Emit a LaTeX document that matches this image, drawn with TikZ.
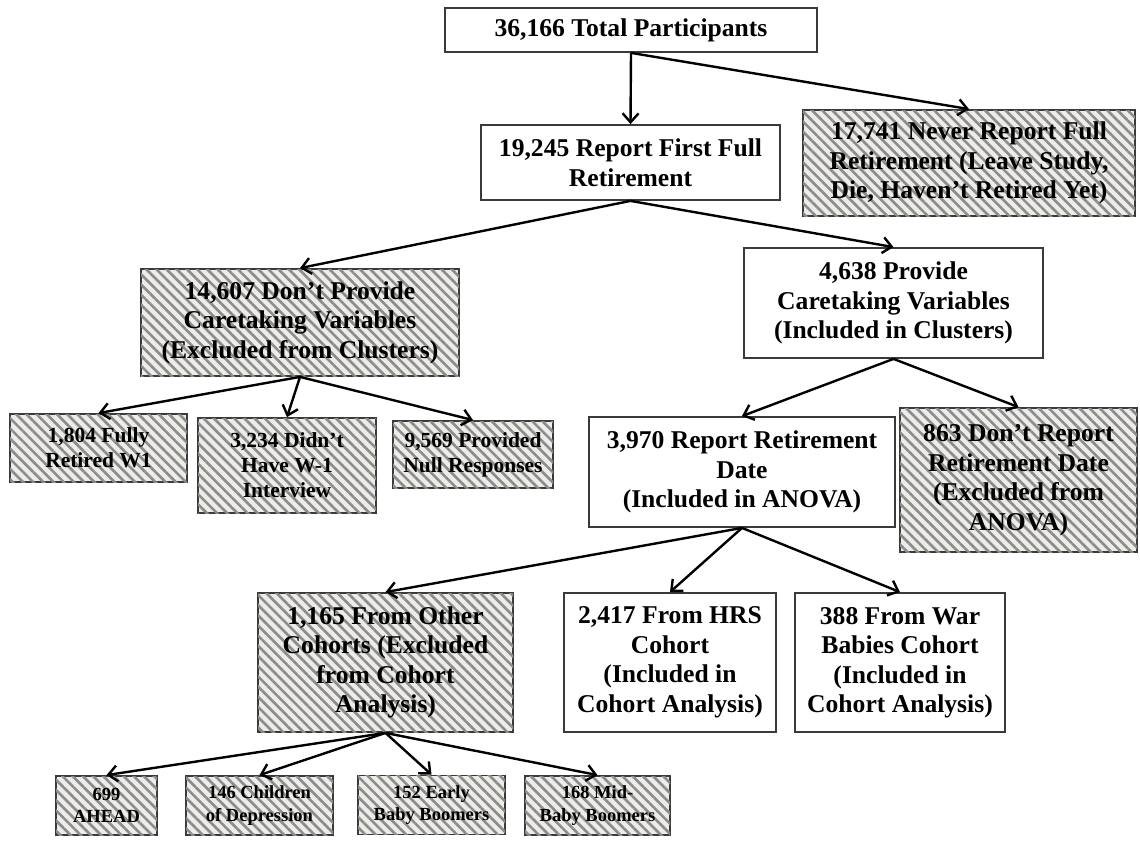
\documentclass[tikz,border=0pt]{standalone}
\usepackage{fontspec}
\setmainfont{Liberation Serif}
\usetikzlibrary{arrows.meta,patterns.meta}
\definecolor{hatchbg}{HTML}{EEECE8}
\definecolor{hatchln}{HTML}{8C8C8C}
\definecolor{boxln}{HTML}{3A3A3A}
\tikzset{
  box/.style={draw=boxln, line width=1.8pt, fill=white, inner sep=0pt, align=center,
    font=\bfseries\fontsize{25.6}{29.5}\selectfont},
  hatch/.style={box, fill=hatchbg, postaction={pattern={Lines[angle=-45,distance=7.2pt,line width=2.6pt]}, pattern color=hatchln}},
  midtxt/.style={font=\bfseries\fontsize{21.5}{25}\selectfont},
  smalltxt/.style={font=\bfseries\fontsize{18.5}{22.5}\selectfont},
  conn/.style={line width=2.4pt, -{Straight Barb[length=9pt,width=16pt,line width=2.4pt]}},
}
\begin{document}
\begin{tikzpicture}[x=1pt,y=-1pt]
\useasboundingbox (0,0) rectangle (1140,846);
% level 0
\node[box, minimum width=372pt, minimum height=44pt] (A) at (631,30) {36,166 Total Participants};
% level 1
\node[box, minimum width=299pt, minimum height=75pt] (B) at (630.5,162.5) {19,245 Report First Full\\Retirement};
\node[hatch, minimum width=332pt, minimum height=106pt] (C) at (969,163) {17,741 Never Report Full\\Retirement (Leave Study,\\Die, Haven’t Retired Yet)};
% level 2
\node[hatch, minimum width=318pt, minimum height=107pt] (G) at (300,322.5) {14,607 Don’t Provide\\Caretaking Variables\\(Excluded from Clusters)};
\node[box, minimum width=299pt, minimum height=110pt] (D) at (893.5,303) {4,638 Provide\\Caretaking Variables\\(Included in Clusters)};
% level 3 left
\node[hatch, midtxt, minimum width=177pt, minimum height=68pt] (S1) at (98.5,448) {1,804 Fully\\Retired W1};
\node[hatch, midtxt, minimum width=178pt, minimum height=95pt] (S2) at (287,465.5) {3,234 Didn’t\\Have W-1\\Interview};
\node[hatch, midtxt, minimum width=160pt, minimum height=67pt] (S3) at (473,454.5) {9,569 Provided\\Null Responses};
% level 3 right
\node[box, minimum width=306pt, minimum height=110pt] (E) at (742,472) {3,970 Report Retirement\\Date\\(Included in ANOVA)};
\node[hatch, minimum width=237pt, minimum height=144pt] (F) at (1018.5,480) {863 Don’t Report\\Retirement Date\\(Excluded from\\ANOVA)};
% level 4
\node[hatch, minimum width=255pt, minimum height=139pt] (H) at (385.5,662.5) {1,165 From Other\\Cohorts (Excluded\\from Cohort\\Analysis)};
\node[box, minimum width=212pt, minimum height=139pt] (I) at (670,662.5) {2,417 From HRS\\Cohort\\(Included in\\Cohort Analysis)};
\node[box, minimum width=210pt, minimum height=139pt] (J) at (900,662.5) {388 From War\\Babies Cohort\\(Included in\\Cohort Analysis)};
% level 5
\node[hatch, smalltxt, minimum width=101pt, minimum height=59pt] (K1) at (106.5,805.5) {699\\AHEAD};
\node[hatch, smalltxt, minimum width=147pt, minimum height=59pt] (K2) at (259.5,805.5) {146 Children\\of Depression};
\node[hatch, smalltxt, minimum width=147pt, minimum height=59pt] (K3) at (431.5,805) {152 Early\\Baby Boomers};
\node[hatch, smalltxt, minimum width=145pt, minimum height=59pt] (K4) at (597.5,805.5) {168 Mid-\\Baby Boomers};
% connectors
\draw[conn] (A.south) -- (B.north);
\draw[conn] (A.south) -- (C.north);
\draw[conn] (B.south) -- (G.north);
\draw[conn] (B.south) -- (D.north);
\draw[conn] (G.south) -- (S1.north);
\draw[conn] (G.south) -- (S2.north);
\draw[conn] (G.south) -- (S3.north);
\draw[conn] (D.south) -- (E.north);
\draw[conn] (D.south) -- (F.north);
\draw[conn] (E.south) -- (H.north);
\draw[conn] (E.south) -- (I.north);
\draw[conn] (E.south) -- (J.north);
\draw[conn] (H.south) -- (K1.north);
\draw[conn] (H.south) -- (K2.north);
\draw[conn] (H.south) -- (K3.north);
\draw[conn] (H.south) -- (K4.north);
\end{tikzpicture}
\end{document}
